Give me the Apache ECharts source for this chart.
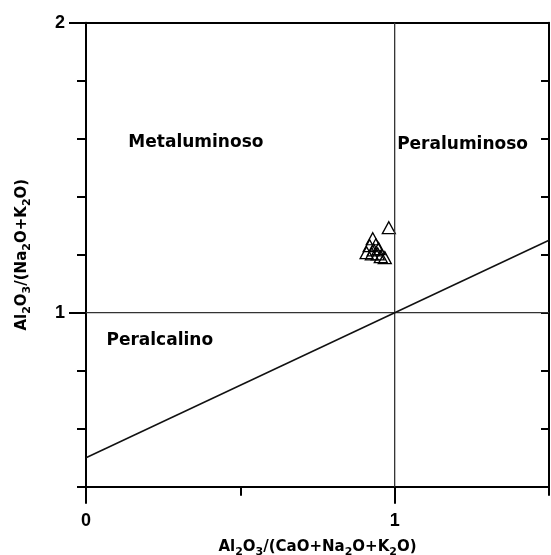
<!DOCTYPE html>
<html><head><meta charset="utf-8">
<script src="https://cdn.jsdelivr.net/npm/echarts@6/dist/echarts.min.js"></script>
<style>html,body{margin:0;padding:0;background:#fff}#c{width:551px;height:555px}</style>
</head><body><div id="c"></div>
<script>
// Sample data: A/CNK (x) and A/NK (y)
const acnk = [0.981, 0.929, 0.919, 0.939, 0.932, 0.948, 0.909, 0.926, 0.945, 0.968, 0.955];
const ank  = [1.293, 1.255, 1.231, 1.234, 1.217, 1.221, 1.207, 1.203, 1.203, 1.190, 1.193];
// Boundary lines
const vLineX = [1, 1];   const vLineY = [0.4, 2];
const hLineX = [0, 1.5]; const hLineY = [1, 1];
const dLineX = [0, 1.5]; const dLineY = [0.5, 1.25];
// Field labels
const fieldNames = ['Metaluminoso', 'Peraluminoso', 'Peralcalino'];
const fieldX = [0.356, 1.22, 0.239];
const fieldY = [1.586, 1.579, 0.903];
// Ticks
const xMajor = [0, 1];
const xMinor = [0.5, 1.5];
const yMajor = [1, 2];
const yMinor = [0.4, 0.6, 0.8, 1.2, 1.4, 1.6, 1.8];
const yAll = [0.4, 0.6, 0.8, 1.0, 1.2, 1.4, 1.6, 1.8];

const F = 'DejaVu Sans, Verdana, sans-serif';
const FA = 'Liberation Sans, Arial, sans-serif';
const zip = (a, b) => a.map((v, i) => [v, b[i]]);
const richName = {
  n: {fontFamily: F, fontWeight: 'bold', fontSize: 15, color: '#000', lineHeight: 18, verticalAlign: 'bottom'},
  s: {fontFamily: F, fontWeight: 'bold', fontSize: 11, color: '#000', lineHeight: 14, verticalAlign: 'bottom', padding: [0, 0, -3, 0]}
};
const xName = '{n|Al}{s|2}{n|O}{s|3}{n|/(CaO+Na}{s|2}{n|O+K}{s|2}{n|O)}';
const yName = '{n|Al}{s|2}{n|O}{s|3}{n|/(Na}{s|2}{n|O+K}{s|2}{n|O)}';

const axLine = {show: true, onZero: false, lineStyle: {color: '#000', width: 2}};
const noLine = {show: false, onZero: false};
const isIn = (v, arr) => arr.some(a => Math.abs(a - v) < 1e-6);
const tickLbl = (arr, margin) => ({
  show: true, margin: margin,
  formatter: v => isIn(v, arr) ? '{t|' + Math.round(v) + '}' : '',
  rich: {t: {fontFamily: FA, fontWeight: 'bold', fontSize: 18, color: '#000'}}
});
const chart = echarts.init(document.getElementById('c'));
chart.setOption({
  animation: false,
  backgroundColor: '#fff',
  grid: {left: 86, right: 2, top: 22.7, bottom: 68.3, containLabel: false, outerBoundsMode: 'none'},
  xAxis: [
    {type: 'value', min: 0, max: 1.5, interval: 0.5, position: 'bottom',
     axisLine: axLine, splitLine: {show: false},
     axisTick: {show: true, customValues: xMajor, length: 17, lineStyle: {color: '#000', width: 2}},
     axisLabel: tickLbl(xMajor, 25),
     name: xName, nameLocation: 'middle', nameGap: 50, nameTextStyle: {rich: richName}},
    {type: 'value', min: 0, max: 1.5, interval: 0.5, position: 'bottom',
     axisLine: noLine, splitLine: {show: false}, axisLabel: {show: false},
     axisTick: {show: true, customValues: xMinor, length: 9, lineStyle: {color: '#000', width: 2}}},
    {type: 'value', min: 0, max: 1.5, interval: 0.5, position: 'top',
     axisLine: axLine, splitLine: {show: false}, axisLabel: {show: false}, axisTick: {show: false}}
  ],
  yAxis: [
    {type: 'value', min: 0.4, max: 2, interval: 0.2, position: 'left',
     axisLine: axLine, splitLine: {show: false},
     axisTick: {show: true, customValues: yMajor, length: 17, lineStyle: {color: '#000', width: 2}},
     axisLabel: tickLbl(yMajor, 21),
     name: yName, nameLocation: 'middle', nameGap: 56, nameRotate: 90, nameTextStyle: {rich: richName}},
    {type: 'value', min: 0.4, max: 2, interval: 0.2, position: 'left',
     axisLine: noLine, splitLine: {show: false}, axisLabel: {show: false},
     axisTick: {show: true, customValues: yMinor, length: 9, lineStyle: {color: '#000', width: 2}}},
    {type: 'value', min: 0.4, max: 2, interval: 0.2, position: 'right',
     axisLine: axLine, splitLine: {show: false}, axisLabel: {show: false},
     axisTick: {show: true, inside: true, customValues: yAll, length: 8, lineStyle: {color: '#000', width: 2}}}
  ],
  series: [
    {type: 'line', data: zip(vLineX, vLineY), symbol: 'none', lineStyle: {color: '#333', width: 1.3}, silent: true},
    {type: 'line', data: zip(hLineX, hLineY), symbol: 'none', lineStyle: {color: '#333', width: 1.3}, silent: true},
    {type: 'line', data: zip(dLineX, dLineY), symbol: 'none', lineStyle: {color: '#111', width: 1.5}, silent: true},
    {type: 'scatter', data: zip(acnk, ank), symbol: 'triangle', symbolSize: [13, 12],
     itemStyle: {color: 'rgba(255,255,255,0)', borderColor: '#000', borderWidth: 1.3, opacity: 1}},
    {type: 'scatter', data: fieldNames.map((n, i) => ({value: [fieldX[i], fieldY[i]], name: n})),
     symbolSize: 0, silent: true, itemStyle: {opacity: 1},
     label: {show: true, position: 'inside', formatter: p => p.name, fontFamily: F, fontWeight: 'bold', fontSize: 17,
             color: '#000', opacity: 1}}
  ]
});
</script></body></html>
